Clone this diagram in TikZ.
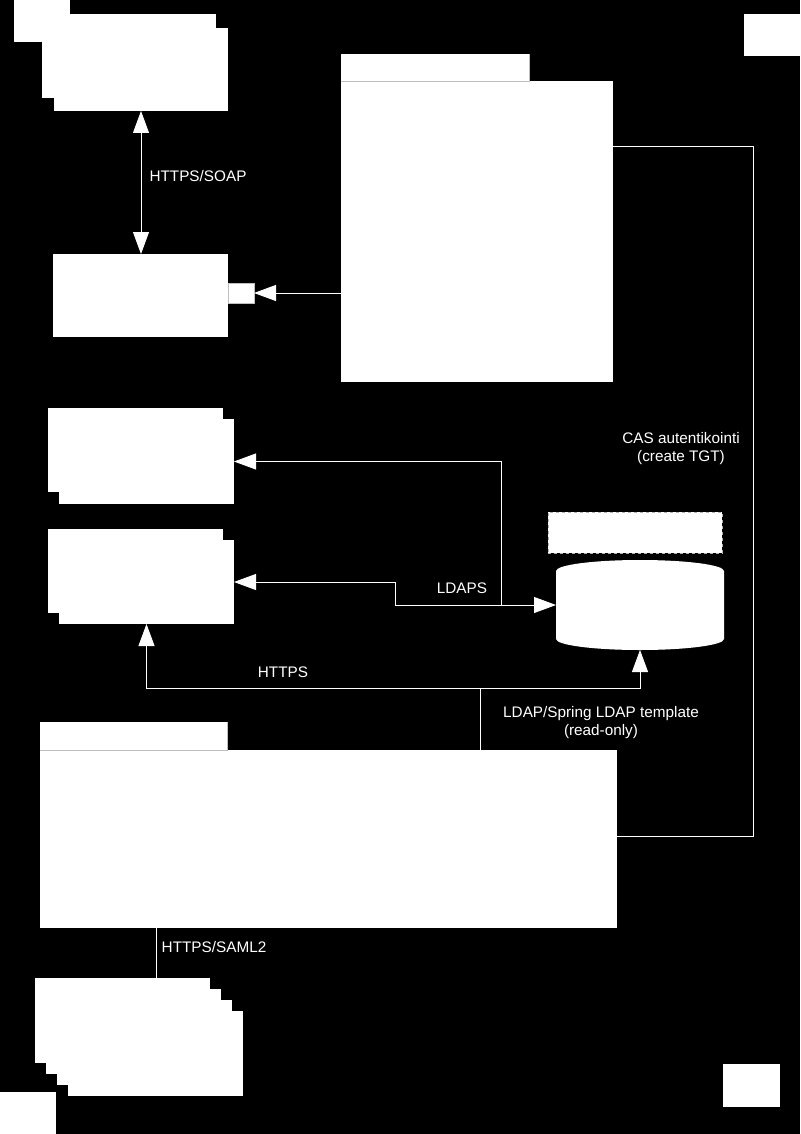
\documentclass[tikz,border=0pt]{standalone}
\usepackage{fontspec}
\setmainfont{Liberation Sans}
\usetikzlibrary{arrows.meta,positioning}
\begin{document}
\begin{tikzpicture}[x=1pt,y=-1pt,
  box/.style={fill=white, draw=none, inner sep=0pt, outer sep=0pt, anchor=north west},
  ghost/.style={inner sep=0pt, outer sep=0pt, anchor=north west},
  wire/.style={draw=white, line width=0.9pt},
  >={Triangle[length=22pt,width=16pt]},
  lbl/.style={text=white, font=\fontsize{15.3}{18}\selectfont, align=center, inner sep=0pt}]
\useasboundingbox (0,0) rectangle (800,1134);
\fill[black] (0,0) rectangle (800,1134);
% top-left stack
\node[box, minimum width=56pt, minimum height=42pt] (t0) at (14,0) {};
\node[box, minimum width=174pt, minimum height=84pt] (t1) at (42,14) {};
\node[box, minimum width=174pt, minimum height=83pt] (t2) at (54,28) {};
% top-right
\node[box, minimum width=56pt, minimum height=42pt] (tr) at (744,14) {};
% middle-left box with port
\node[box, minimum width=175pt, minimum height=83pt] (pc) at (53,254) {};
\node[box, draw=gray!50, line width=0.5pt, minimum width=26pt, minimum height=20pt] (port) at (228,283) {};
% big box
\node[box, minimum width=188pt, minimum height=27pt] (bigtab) at (341,54) {};
\node[box, minimum width=272pt, minimum height=301pt] (big) at (341,81) {};
\draw[gray!50, line width=0.5pt] (bigtab.south west) -- (bigtab.south east) -- (bigtab.north east);
% two stacked pairs
\node[box, minimum width=175pt, minimum height=84pt] (A1) at (48,408) {};
\node[box, minimum width=175pt, minimum height=85pt] (A2) at (59,419) {};
\node[box, minimum width=175pt, minimum height=84pt] (B1) at (48,529) {};
\node[box, minimum width=175pt, minimum height=84pt] (B2) at (59,540) {};
% directory
\node[box, dashed, draw=gray!60, line width=0.5pt, minimum width=174pt, minimum height=41pt] (dbl) at (548,512) {};
\node[ghost, minimum width=168pt, minimum height=90pt] (db) at (556,560) {};
\fill[white] (556,571) -- (556,639)
  arc[start angle=180, end angle=0, x radius=84, y radius=11] -- (724,571)
  arc[start angle=360, end angle=180, x radius=84, y radius=11] -- cycle;
% bottom big box
\node[box, minimum width=187pt, minimum height=28pt] (bottab) at (40,722) {};
\node[box, minimum width=577pt, minimum height=178pt] (bot) at (40,750) {};
\draw[gray!50, line width=0.5pt] (bottab.south west) -- (bottab.south east) -- (bottab.north east);
% bottom stack
\node[box, minimum width=175pt, minimum height=85pt] (S1) at (35,978) {};
\node[box, minimum width=175pt, minimum height=85pt] (S2) at (46,989) {};
\node[box, minimum width=175pt, minimum height=85pt] (S3) at (57,1000) {};
\node[box, minimum width=175pt, minimum height=85pt] (S4) at (68,1011) {};
% corner boxes
\node[box, minimum width=56pt, minimum height=42pt] (bl) at (0,1092) {};
\node[box, minimum width=57pt, minimum height=43pt] (br) at (723,1064) {};
% connectors
\draw[wire, <->] (t2.south) -- (t2.south |- pc.north);
\node[lbl] (soap) at (198,176) {HTTPS/SOAP};
\draw[wire, ->] (big.west |- port.east) -- (port.east);
\coordinate (casR) at (753,146);
\draw[wire] (big.east |- casR) -- (casR) |- ([yshift=-86pt]bot.north east);
\node[lbl] (cas) at (681,449) {CAS autentikointi\\(create TGT)};
\coordinate (ljA) at (501,605);
\coordinate (ljB) at (395,582);
\draw[wire, <->] (B2.east) -- (ljB) |- (db.west);
\draw[wire, <-] (A2.east) -| (ljA);
\node[lbl] (ldaps) at (462,588) {LDAPS};
\coordinate (hj) at (640,688);
\draw[wire, <->] (B2.south) |- (hj) -- (db.south);
\node[lbl] (https) at (283,672) {HTTPS};
\coordinate (lj) at (480,688);
\draw[wire] (lj) -- (lj |- bot.north);
\node[lbl] (ldap) at (601,723) {LDAP/Spring LDAP template\\(read-only)};
\coordinate (saml) at (156,928);
\draw[wire] (saml) -- (saml |- S1.north);
\node[lbl] (samll) at (214,947) {HTTPS/SAML2};
\end{tikzpicture}
\end{document}
